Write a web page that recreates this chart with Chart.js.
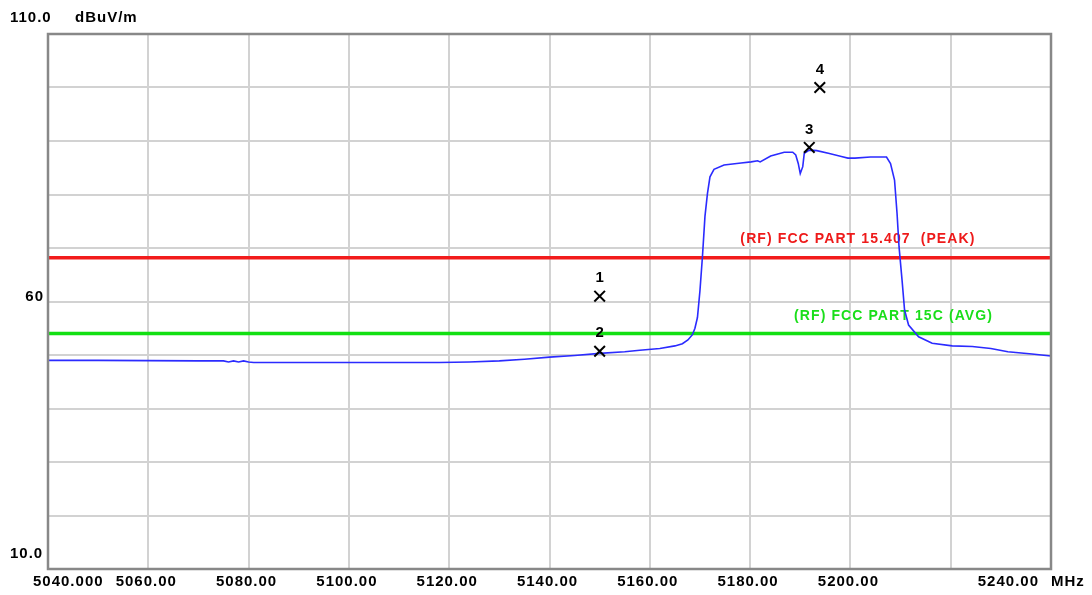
<!DOCTYPE html>
<html>
<head>
<meta charset="utf-8">
<title>Radiated emission scan 5040-5240 MHz</title>
<script src="https://cdn.jsdelivr.net/npm/chart.js@4.4.1/dist/chart.umd.min.js"></script>
<style>
  html, body { margin: 0; padding: 0; background: #ffffff; }
  #wrap { width: 1092px; height: 595px; }
</style>
</head>
<body>
<div id="wrap"><canvas id="scan" width="1092" height="595"></canvas></div>
<script>
// Measured trace (MHz, dBuV/m)
const traceFreq = [
  5040.0, 5050.0, 5060.0, 5070.0, 5075.0, 5076.0, 5077.0, 5078.0, 5079.0, 5080.0,
  5081.0, 5090.0, 5100.0, 5110.0, 5118.0, 5124.0, 5130.0, 5135.0, 5140.0, 5145.0,
  5150.0, 5155.0, 5158.0, 5162.0, 5165.0, 5166.5, 5167.6, 5168.5, 5169.0, 5169.5,
  5170.0, 5170.5, 5171.0, 5171.5, 5172.0, 5172.8, 5174.8, 5178.2, 5180.2, 5181.5,
  5182.0, 5184.1, 5186.8, 5188.5, 5189.1, 5189.6, 5190.0, 5190.5, 5190.8, 5191.8,
  5193.3, 5195.6, 5198.2, 5199.5, 5200.9, 5204.0, 5207.2, 5208.0, 5208.8, 5209.3,
  5209.7, 5210.3, 5210.8, 5211.6, 5213.6, 5216.3, 5220.3, 5224.3, 5228.0, 5231.4,
  5236.2, 5240.0
];
const traceLevel = [
  49.0, 49.0, 48.95, 48.9, 48.9, 48.7, 48.9, 48.7, 48.9, 48.7,
  48.6, 48.6, 48.6, 48.6, 48.6, 48.7, 48.9, 49.2, 49.6, 49.9,
  50.3, 50.6, 50.9, 51.2, 51.7, 52.1, 52.8, 53.8, 55.0, 57.0,
  62.0, 68.4, 75.9, 80.2, 83.3, 84.7, 85.5, 85.9, 86.1, 86.3,
  86.1, 87.2, 87.9, 87.9, 87.4, 85.8, 83.9, 85.2, 87.7, 88.3,
  88.2, 87.7, 87.1, 86.8, 86.8, 87.0, 87.0, 85.8, 82.7, 76.5,
  70.2, 64.0, 58.4, 55.6, 53.4, 52.2, 51.7, 51.6, 51.2, 50.6,
  50.2, 49.8
];

// Limit lines
const limitNames = ['(RF) FCC PART 15.407  (PEAK)', '(RF) FCC PART 15C (AVG)'];
const limitLevels = [68.2, 54.0];

// Markers
const markerNames = ['1', '2', '3', '4'];
const markerFreq = [5150.0, 5150.0, 5191.8, 5193.9];
const markerLevel = [61.0, 50.7, 88.8, 100.0];

// Axis range and tick labels
const freqStart = 5040, freqStop = 5240, freqStep = 20;
const levelMin = 10, levelMax = 110, levelStep = 10;
const xTickValues = [5040, 5060, 5080, 5100, 5120, 5140, 5160, 5180, 5200, 5220, 5240];
const xTickLabels = ['5040.000', '5060.00', '5080.00', '5100.00', '5120.00', '5140.00',
                     '5160.00', '5180.00', '5200.00', '', '5240.00'];
const xUnit = 'MHz';
const yTickValues = [110, 60, 10];
const yTickLabels = ['110.0', '60', '10.0'];
const yUnit = 'dBuV/m';

const FONT = '"Liberation Sans", Arial, sans-serif';

// Styling
const traceColor = '#2b2bff';
const limitColors = ['#f21c1c', '#12e012'];
const limitTextColors = ['#ee1a1a', '#1ade1a'];
const limitTextAnchor = [ {f: 5201.5, dy: -18}, {f: 5208.6, dy: -17} ];

const pts = (xs, ys) => xs.map((x, i) => ({ x: x, y: ys[i] }));

// Frame, tick labels and limit captions drawn around the datasets
const annotate = {
  id: 'annotate',
  beforeDatasetsDraw(chart) {
    const { ctx, scales: { x, y } } = chart;
    ctx.save();
    ctx.font = 'bold 14px ' + FONT;
    ctx.letterSpacing = '1.1px';
    ctx.textBaseline = 'middle';
    ctx.textAlign = 'center';
    limitNames.forEach((t, i) => {
      ctx.fillStyle = limitTextColors[i];
      ctx.fillText(t, x.getPixelForValue(limitTextAnchor[i].f),
                   y.getPixelForValue(limitLevels[i]) + limitTextAnchor[i].dy);
    });
    ctx.restore();
  },
  afterDatasetsDraw(chart) {
    const { ctx, chartArea: a, scales: { x, y } } = chart;
    ctx.save();
    // plot frame
    ctx.strokeStyle = '#888888';
    ctx.lineWidth = 2.5;
    ctx.strokeRect(a.left, a.top, a.right - a.left, a.bottom - a.top);

    ctx.fillStyle = '#000000';
    ctx.font = 'bold 15px ' + FONT;
    ctx.letterSpacing = '1px';
    ctx.textBaseline = 'middle';

    // frequency labels
    const n = xTickValues.length;
    xTickValues.forEach((v, i) => {
      const px = x.getPixelForValue(v);
      if (i === 0) { ctx.textAlign = 'left'; ctx.fillText(xTickLabels[i], px - 15, a.bottom + 13); }
      else if (i === n - 1) { ctx.textAlign = 'right'; ctx.fillText(xTickLabels[i], px - 12, a.bottom + 13); }
      else { ctx.textAlign = 'center'; ctx.fillText(xTickLabels[i], px - 2, a.bottom + 13); }
    });
    ctx.textAlign = 'left';
    ctx.fillText(xUnit, a.right, a.bottom + 13);

    // level labels
    yTickValues.forEach((v, i) => {
      const py = y.getPixelForValue(v);
      if (v === levelMax) { ctx.textAlign = 'left'; ctx.fillText(yTickLabels[i], 10, py - 16); }
      else if (v === levelMin) { ctx.textAlign = 'left'; ctx.fillText(yTickLabels[i], 10, py - 15); }
      else { ctx.textAlign = 'right'; ctx.fillText(yTickLabels[i], 44, py - 4.5); }
    });
    ctx.textAlign = 'left';
    ctx.fillText(yUnit, 75, y.getPixelForValue(levelMax) - 16);

    // marker numbers
    ctx.font = 'bold 15px ' + FONT;
    ctx.letterSpacing = '0px';
    ctx.textAlign = 'center';
    markerNames.forEach((t, i) => {
      ctx.fillText(t, x.getPixelForValue(markerFreq[i]), y.getPixelForValue(markerLevel[i]) - 18);
    });
    ctx.restore();
  }
};

new Chart(document.getElementById('scan'), {
  type: 'line',
  data: {
    datasets: [
      {
        label: 'Trace',
        data: pts(traceFreq, traceLevel),
        borderColor: traceColor,
        borderWidth: 1.6,
        pointRadius: 0,
        tension: 0,
        order: 1
      },
      ...limitNames.map((name, i) => ({
        label: name,
        data: pts([freqStart, freqStop], [limitLevels[i], limitLevels[i]]),
        borderColor: limitColors[i],
        borderWidth: 3.5,
        pointRadius: 0,
        order: 2
      })),
      {
        label: 'Markers',
        data: pts(markerFreq, markerLevel),
        showLine: false,
        pointStyle: 'crossRot',
        pointRadius: 7.5,
        pointBorderWidth: 2,
        borderColor: '#000000',
        pointBorderColor: '#000000',
        order: 0
      }
    ]
  },
  options: {
    responsive: false,
    animation: false,
    devicePixelRatio: 1,
    layout: { padding: { left: 48, right: 41, top: 34, bottom: 26 } },
    plugins: { legend: { display: false }, tooltip: { enabled: false } },
    scales: {
      x: {
        type: 'linear',
        min: freqStart, max: freqStop,
        ticks: { display: false, stepSize: freqStep },
        grid: { color: '#d2d2d2', lineWidth: 2, drawTicks: false },
        border: { display: false },
        afterFit: s => { s.height = 0; }
      },
      y: {
        type: 'linear',
        min: levelMin, max: levelMax,
        ticks: { display: false, stepSize: levelStep },
        grid: { color: '#d2d2d2', lineWidth: 2, drawTicks: false },
        border: { display: false },
        afterFit: s => { s.width = 0; }
      }
    }
  },
  plugins: [annotate]
});
</script>
</body>
</html>
